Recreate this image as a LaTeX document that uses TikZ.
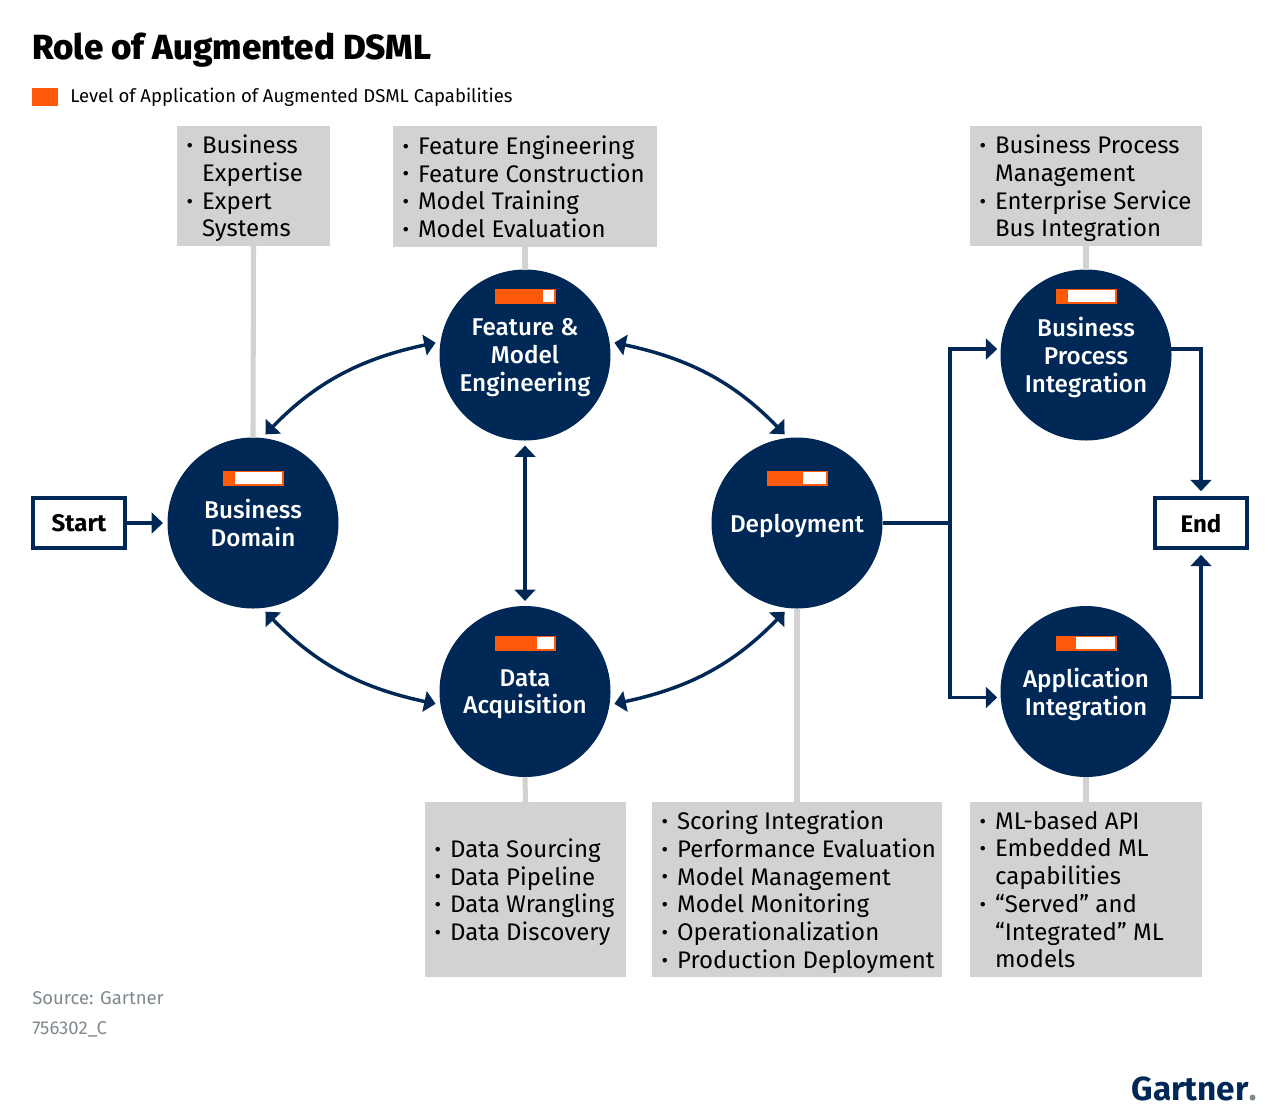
\documentclass[tikz,border=0pt]{standalone}
\usepackage{fontspec}
\setmainfont{Fira Sans}
\newfontfamily\medfont{Fira Sans Medium}
\newfontfamily\heavyfont{Fira Sans ExtraBold}
\usetikzlibrary{arrows.meta}

\definecolor{navy}{HTML}{002856}
\definecolor{accent}{HTML}{FF5A0A}
\definecolor{panel}{HTML}{D2D2D2}
\definecolor{note}{HTML}{7F8A8F}

\newcommand{\itm}{\makebox[11.6pt][l]{\raisebox{0.8pt}{\fontsize{15}{15}\selectfont\textbullet}}}
\newcommand{\ind}{\hspace*{11.6pt}}
% level bar: centre x, centre y, x where the white part starts
\newcommand{\levelbar}[3]{
    \fill[accent] (#1-30.5,#2-7.5) rectangle (#1+30.5,#2+7.5);
    \fill[white] (#3,#2-6) rectangle (#1+29,#2+6);
}

\tikzset{
    stage/.style={circle,fill=navy,text=white,minimum size=128.25pt,inner sep=0pt,outer sep=0pt,align=center,text depth=0pt,font=\medfont\fontsize{18.2}{20.8}\selectfont},
    listbox/.style={rectangle,fill=panel,inner sep=0pt,outer sep=0pt},
    listtext/.style={anchor=west,inner xsep=7pt,inner ysep=0pt,align=left,text depth=0pt,font=\fontsize{18}{20.8}\selectfont},
    endbox/.style={rectangle,draw=navy,line width=2.9pt,fill=white,minimum width=69.1pt,minimum height=37.6pt,inner sep=0pt,text depth=0pt,font=\fontsize{18}{20.8}\selectfont\bfseries},
    stem/.style={panel,line width=3.8pt},
    link/.style={navy,line width=2.6pt},
    onearrow/.style={link,-{Triangle[length=8.5pt,width=15.5pt]}},
    twoarrow/.style={link,{Triangle[length=8.5pt,width=15.5pt]}-{Triangle[length=8.5pt,width=15.5pt]},shorten <=3.8pt,shorten >=3.8pt}
}

\begin{document}
\begin{tikzpicture}[x=0.75pt,y=-0.75pt]
    \useasboundingbox (0,0) rectangle (1280,1115);

    \node[anchor=west,inner sep=0pt,font=\heavyfont\fontsize{26.2}{30}\selectfont] (title) at (32,50) {Role of Augmented DSML};
    \fill[accent] (32,88) rectangle (58,106);
    \node[anchor=west,inner sep=0pt,font=\fontsize{13.9}{16}\selectfont] (legend) at (70,97) {Level of Application of Augmented DSML Capabilities};

    \node[stage] (domain) at (253,523) {Business\\Domain};
    \node[stage] (feature) at (525,355) {Feature \&\\Model\\Engineering};
    \node[stage] (data) at (525,691.5) {Data\\Acquisition};
    \node[stage] (deploy) at (797,523) {Deployment};
    \node[stage] (process) at (1086,355) {Business\\Process\\Integration};
    \node[stage] (application) at (1086,691.5) {Application\\Integration};

    \levelbar{253}{478}{235}
    \levelbar{525}{296}{543}
    \levelbar{525}{643}{537}
    \levelbar{797}{478}{803}
    \levelbar{1086}{296}{1068}
    \levelbar{1086}{643}{1076}

    \node[endbox] (start) at (79,523) {Start};
    \node[endbox] (end) at (1201,523) {End};

    \node[listbox,minimum width=114.75pt,minimum height=90pt] (domainlist) at (253.5,186) {};
    \node[listtext] (domaintext) at (domainlist.west)
        {\itm Business\\\ind Expertise\\\itm Expert\\\ind Systems};
    \node[listbox,minimum width=198pt,minimum height=90.75pt] (featurelist) at (525,186.5) {};
    \node[listtext] (featuretext) at (featurelist.west)
        {\itm Feature Engineering\\\itm Feature Construction\\\itm Model Training\\\itm Model Evaluation};
    \node[listbox,minimum width=174pt,minimum height=90pt] (processlist) at (1086,186) {};
    \node[listtext] (processtext) at (processlist.west)
        {\itm Business Process\\\ind Management\\\itm Enterprise Service\\\ind Bus Integration};
    \node[listbox,minimum width=150.75pt,minimum height=131.25pt] (datalist) at (525.5,889.5) {};
    \node[listtext] (datatext) at (datalist.west)
        {\itm Data Sourcing\\\itm Data Pipeline\\\itm Data Wrangling\\\itm Data Discovery};
    \node[listbox,minimum width=217.5pt,minimum height=131.25pt] (deploylist) at (797,889.5) {};
    \node[listtext] (deploytext) at (deploylist.west)
        {\itm Scoring Integration\\\itm Performance Evaluation\\\itm Model Management\\\itm Model Monitoring\\\itm Operationalization\\\itm Production Deployment};
    \node[listbox,minimum width=174pt,minimum height=131.25pt] (applicationlist) at (1086,889.5) {};
    \node[listtext] (applicationtext) at (applicationlist.west)
        {\itm ML-based API\\\itm Embedded ML\\\ind capabilities\\\itm “Served” and\\\ind “Integrated” ML\\\ind models};

    \draw[stem] (domainlist.south) -- (domain.north);
    \draw[stem] (featurelist.south) -- (feature.north);
    \draw[stem] (processlist.south) -- (process.north);
    \draw[stem] (datalist.north) -- (data.south);
    \draw[stem] (deploylist.north) -- (deploy.south);
    \draw[stem] (applicationlist.north) -- (application.south);

    \draw[twoarrow] (domain.84) to[out=46,in=192] (feature.171);
    \draw[twoarrow] (feature.9) to[out=-12,in=134] (deploy.96);
    \draw[twoarrow] (domain.276) to[out=-46,in=168] (data.189);
    \draw[twoarrow] (data.351) to[out=12,in=226] (deploy.264);
    \draw[twoarrow] (feature.south) -- (data.north);

    \coordinate (branch) at (950,523);
    \draw[onearrow,shorten >=3.4pt] (start.east) -- (domain.west);
    \draw[link] (deploy.east) -- (branch);
    \draw[onearrow,shorten >=2.6pt] (branch) |- (process.176);
    \draw[onearrow,shorten >=2.6pt] (branch) |- (application.184);
    \draw[onearrow,shorten >=3.6pt] (process.4) -| (end.north);
    \draw[onearrow,shorten >=3.6pt] (application.-4) -| (end.south);

    \node[anchor=west,inner sep=0pt,text=note,font=\fontsize{13.9}{16}\selectfont] (source) at (32,998) {Source: Gartner};
    \node[anchor=west,inner sep=0pt,text=note,font=\fontsize{13.9}{16}\selectfont] (code) at (32,1029) {756302\_C};
    \node[anchor=east,inner sep=0pt,text=navy,font=\fontsize{25}{28}\selectfont\bfseries] (logo) at (1249,1089) {Gartner};
    \fill[note] (logo.base east) ++(3.5,-3) circle (3);
\end{tikzpicture}
\end{document}
